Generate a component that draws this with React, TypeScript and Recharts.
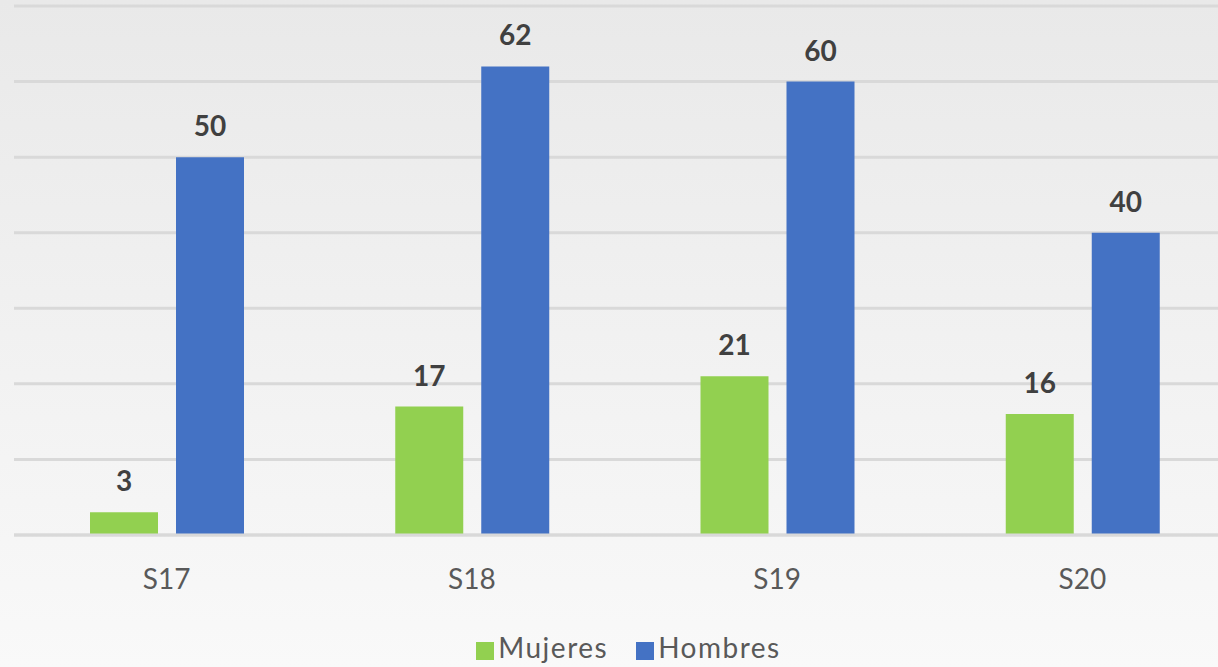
import { Bar, BarChart, CartesianGrid, LabelList, Legend, XAxis, YAxis } from "recharts";

const weeks = ["S17", "S18", "S19", "S20"];
const mujeres = [3, 17, 21, 16];
const hombres = [50, 62, 60, 40];
const yTicks = [0, 10, 20, 30, 40, 50, 60, 70];
const seriesOrder = ["Mujeres", "Hombres"];

const GREEN = "#92d050";
const BLUE = "#4472c4";
const FONT = "Lato, 'Open Sans', sans-serif";

const data = weeks.map((w, i) => ({ week: w, Mujeres: mujeres[i], Hombres: hombres[i] }));

export default function App() {
  return (
    <div
      style={{
        position: "fixed",
        left: 0,
        top: 0,
        width: 1218,
        height: 667,
        overflow: "hidden",
        background: "linear-gradient(#e9e9e9, #f9f9f9)",
        fontFamily: FONT,
      }}
    >
      <BarChart
        width={1236}
        height={667}
        data={data}
        margin={{ top: 6, right: 1, left: 14, bottom: 3 }}
        barGap={18}
        barSize={68}
      >
        <CartesianGrid stroke="#d9d9d9" strokeWidth={3} vertical={false} />
        <XAxis
          dataKey="week"
          height={95}
          tickLine={false}
          axisLine={{ stroke: "#d9d9d9", strokeWidth: 3 }}
          tickMargin={28}
          tick={{ fill: "#595959", fontSize: 28, fontFamily: FONT }}
        />
        <YAxis hide domain={[0, 70]} ticks={yTicks} />
        <Legend
          iconType="square"
          iconSize={18}
          itemSorter={(item: { value?: string }) => seriesOrder.indexOf(String(item.value))}
          wrapperStyle={{ fontFamily: FONT, fontSize: 28, letterSpacing: 1.5, paddingLeft: 18 }}
          formatter={(v: string) => (
            <span style={{ color: "#595959", marginRight: 18 }}>{v}</span>
          )}
        />
        <Bar dataKey="Mujeres" fill={GREEN} isAnimationActive={false}>
          <LabelList
            dataKey="Mujeres"
            position="top"
            offset={21}
            fill="#404040"
            fontSize={28}
            fontWeight="bold"
            fontFamily={FONT}
          />
        </Bar>
        <Bar dataKey="Hombres" fill={BLUE} isAnimationActive={false}>
          <LabelList
            dataKey="Hombres"
            position="top"
            offset={21}
            fill="#404040"
            fontSize={28}
            fontWeight="bold"
            fontFamily={FONT}
          />
        </Bar>
      </BarChart>
    </div>
  );
}
